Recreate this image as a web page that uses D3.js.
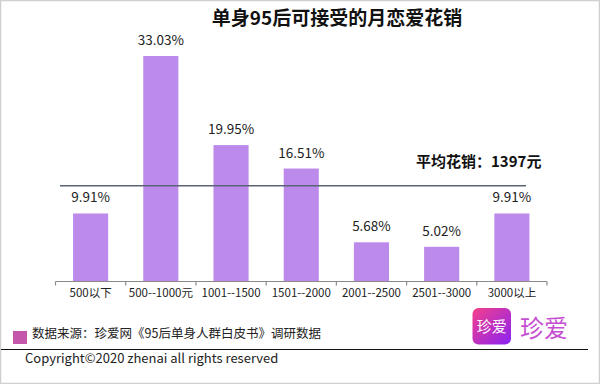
<!DOCTYPE html>
<html><head><meta charset="utf-8">
<script src="https://cdn.jsdelivr.net/npm/d3@7"></script>
<style>body{margin:0;background:#fff}svg{display:block}</style>
</head><body>
<script>
const categories = ["500以下","500--1000元","1001--1500","1501--2000","2001--2500","2501--3000","3000以上"];
const values = [9.91, 33.03, 19.95, 16.51, 5.68, 5.02, 9.91];
const valueLabels = ["9.91%","33.03%","19.95%","16.51%","5.68%","5.02%","9.91%"];
const averageValue = 13.97;
const averageLabel = "平均花销：1397元";
const title = "单身95后可接受的月恋爱花销";
const sourceText = "数据来源：珍爱网《95后单身人群白皮书》调研数据";
const copyright = "Copyright©2020 zhenai all rights reserved";

const W = 600, H = 384;
const font = "'Noto Sans CJK SC', 'Noto Sans', sans-serif";
const svg = d3.select("body").append("svg").attr("width", W).attr("height", H);

// frame
svg.append("rect").attr("x",0.5).attr("y",0.5).attr("width",W-1).attr("height",H-1)
  .attr("fill","#fff").attr("stroke","#cfcfcf").attr("stroke-width",1.5);

const x = d3.scaleBand().domain(categories).range([55.5, 547]).paddingInner(0.5).paddingOuter(0.25);
const y = d3.scaleLinear().domain([0, 33.03]).range([281, 56]);

// title
svg.append("text").attr("x",337).attr("y",25).attr("text-anchor","middle")
  .attr("font-family",font).attr("font-weight","bold").attr("font-size",19).attr("fill","#111").text(title);

// bars
svg.selectAll("rect.bar").data(values).join("rect").attr("class","bar")
  .attr("x",(d,i)=>x(categories[i])).attr("width",x.bandwidth())
  .attr("y",d=>y(d)).attr("height",d=>y(0)-y(d)).attr("fill","#BB8AEA");

// value labels
svg.selectAll("text.val").data(values).join("text").attr("class","val")
  .attr("x",(d,i)=>x(categories[i])+x.bandwidth()/2).attr("y",d=>y(d)-11)
  .attr("text-anchor","middle").attr("font-family",font).attr("font-size",13.5).attr("fill","#222")
  .text((d,i)=>valueLabels[i]);

// axis
const axis = d3.axisBottom(x).tickSize(0).tickPadding(0);
const gx = svg.append("g").attr("transform",`translate(0,${y(0)+0.5})`);
gx.append("line").attr("x1",55.5).attr("x2",547).attr("stroke","#8a8a8a").attr("stroke-width",1.2);
const edges = categories.map(c=>x(c)-x.step()*0.25).concat([547]);
gx.selectAll("line.tk").data(edges).join("line").attr("class","tk")
  .attr("x1",d=>d).attr("x2",d=>d).attr("y1",0).attr("y2",4).attr("stroke","#8a8a8a").attr("stroke-width",1.2);
const gl = svg.append("g").attr("transform",`translate(0,${y(0)+6})`).call(axis);
gl.select(".domain").remove();
gl.selectAll("text").attr("font-family",font).attr("font-size",11.5).attr("fill","#222").attr("dy","0.9em");

// average line
svg.append("line").attr("x1",60).attr("x2",526).attr("y1",y(averageValue)).attr("y2",y(averageValue))
  .attr("stroke","#5b6476").attr("stroke-width",1.5);
svg.append("text").attr("x",416).attr("y",y(averageValue)-19).attr("font-family",font).attr("font-weight","bold")
  .attr("font-size",15).attr("fill","#111").text(averageLabel);

// source legend
svg.append("rect").attr("x",13).attr("y",331).attr("width",14).attr("height",13).attr("fill","#C557AB");
svg.append("text").attr("x",32).attr("y",338).attr("font-family",font).attr("font-size",12.5).attr("fill","#222").text(sourceText);

// separator line
svg.append("line").attr("x1",1).attr("x2",588).attr("y1",349.5).attr("y2",349.5).attr("stroke","#111").attr("stroke-width",1.2);
svg.append("text").attr("x",25).attr("y",363).attr("font-family",font).attr("font-size",13).attr("fill","#222").text(copyright);

// logo
const defs = svg.append("defs");
const g = defs.append("linearGradient").attr("id","lg").attr("x1","0").attr("y1","0").attr("x2","1").attr("y2","1");
g.append("stop").attr("offset","0").attr("stop-color","#F5408A");
g.append("stop").attr("offset","1").attr("stop-color","#8A22F2");
svg.append("rect").attr("x",472.5).attr("y",308).attr("width",38.5).attr("height",36.5).attr("rx",6).attr("fill","url(#lg)");
svg.append("text").attr("x",491.8).attr("y",332).attr("text-anchor","middle").attr("font-family",font)
  .attr("font-size",15).attr("fill","#fff").text("珍爱");
svg.append("text").attr("x",520).attr("y",337).attr("font-family",font)
  .attr("font-size",24).attr("fill","#C54FD0").text("珍爱");
</script>
</body></html>
